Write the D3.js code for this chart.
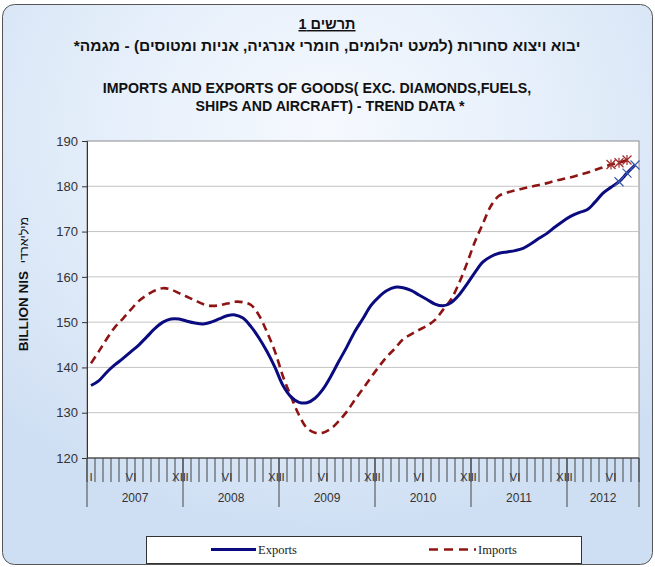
<!DOCTYPE html>
<html><head><meta charset="utf-8">
<script src="https://cdn.jsdelivr.net/npm/d3@7/dist/d3.min.js"></script>
<style>html,body{margin:0;padding:0;background:#fff;}svg{display:block;}</style>
</head><body>
<script>
const years = [2007, 2008, 2009, 2010, 2011, 2012];
const monthsPerYear = [12, 12, 12, 12, 12, 9];
const monthLabels = ["I","","","","","VI","","","","","","XII"];
const yTicks = [120, 130, 140, 150, 160, 170, 180, 190];
const exportsData = [136.0,137.1,139.0,140.6,142.0,143.5,145.0,146.8,148.6,150.0,150.7,150.7,
  150.2,149.8,149.6,150.0,150.7,151.4,151.6,150.9,149.0,146.5,143.5,140.0,
  136.0,133.5,132.3,132.2,133.2,135.2,138.1,141.4,144.6,148.0,150.8,153.7,
  155.6,157.0,157.7,157.6,157.0,156.0,155.0,154.0,153.6,154.3,156.0,158.4,
  161.0,163.3,164.5,165.2,165.5,165.8,166.3,167.3,168.5,169.6,171.0,172.3,
  173.4,174.2,174.8,176.5,178.5,179.8,181.0,182.9,184.7];
const importsData = [140.9,143.6,146.4,148.9,150.8,152.8,154.7,156.0,157.0,157.5,157.2,156.4,
  155.6,154.8,154.0,153.6,153.7,154.1,154.5,154.4,153.8,151.5,147.8,143.5,
  138.0,133.6,129.5,126.6,125.6,125.6,126.5,128.2,130.3,132.9,135.3,137.8,
  140.2,142.4,144.2,146.2,147.3,148.3,149.2,150.5,152.7,155.0,158.6,163.0,
  167.8,171.8,175.7,177.9,178.6,179.1,179.5,179.9,180.3,180.7,181.2,181.6,
  182.0,182.5,183.0,183.6,184.2,184.8,185.2,185.8];
const provisionalCount = 3;
const seriesNames = ["Exports", "Imports"];

(function(){
const W = 655, H = 567;
const svg = d3.select("body").append("svg").attr("width", W).attr("height", H);
const defs = svg.append("defs");
const grad = defs.append("radialGradient").attr("id","bg").attr("cx","50%").attr("cy","22%").attr("r","72%");
grad.append("stop").attr("offset","0%").attr("stop-color","#f6f9fe");
grad.append("stop").attr("offset","50%").attr("stop-color","#e4eefa");
grad.append("stop").attr("offset","100%").attr("stop-color","#cfdff3");

svg.append("rect").attr("x",2.5).attr("y",4.5).attr("width",650).attr("height",560)
  .attr("rx",12).attr("fill","url(#bg)").attr("stroke","#555").attr("stroke-width",1);

const font = "'Liberation Sans', Arial, sans-serif";
svg.append("text").attr("x",327).attr("y",29).attr("text-anchor","middle")
  .attr("font-family",font).attr("font-weight","bold").attr("font-size",14.5)
  .attr("text-decoration","underline").attr("direction","rtl").attr("fill","#111").text("תרשים 1");
svg.append("text").attr("x",327).attr("y",51).attr("text-anchor","middle")
  .attr("font-family",font).attr("font-weight","bold").attr("font-size",15.5)
  .attr("direction","rtl").attr("fill","#111")
  .text("יבוא ויצוא סחורות (למעט יהלומים, חומרי אנרגיה, אניות ומטוסים) - מגמה*");
svg.append("text").attr("x",317).attr("y",93).attr("text-anchor","middle")
  .attr("font-family",font).attr("font-weight","bold").attr("font-size",14.2).attr("fill","#111")
  .text("IMPORTS AND EXPORTS OF GOODS( EXC. DIAMONDS,FUELS,");
svg.append("text").attr("x",330).attr("y",111).attr("text-anchor","middle")
  .attr("font-family",font).attr("font-weight","bold").attr("font-size",14.2).attr("fill","#111")
  .text("SHIPS AND AIRCRAFT) - TREND DATA *");

const pL = 87, pR = 639, pT = 141, pB = 458;
const nMonths = d3.sum(monthsPerYear);
const idx = d3.range(nMonths);
const x = d3.scaleBand().domain(idx).range([pL, pR]).padding(0);
const y = d3.scaleLinear().domain([120, 190]).range([pB, pT]);
const cx = i => x(i) + x.bandwidth()/2;

svg.append("rect").attr("x",pL).attr("y",pT).attr("width",pR-pL).attr("height",pB-pT)
  .attr("fill","#fff").attr("stroke","#8c8c8c").attr("stroke-width",1);

svg.append("g").selectAll("line").data(yTicks.filter(t => t>120 && t<190)).join("line")
  .attr("x1",pL).attr("x2",pR).attr("y1",d=>y(d)).attr("y2",d=>y(d))
  .attr("stroke","#c4c4c4").attr("stroke-width",1);

const yAxis = d3.axisLeft(y).tickValues(yTicks).tickSize(5).tickPadding(4);
const gy = svg.append("g").attr("transform",`translate(${pL},0)`).call(yAxis);
gy.select(".domain").attr("stroke","#333");
gy.selectAll(".tick line").attr("stroke","#333");
gy.selectAll("text").attr("font-family",font).attr("font-size",13).attr("fill","#333");

const gx = svg.append("g");
gx.append("line").attr("x1",pL).attr("x2",pR).attr("y1",pB).attr("y2",pB).attr("stroke","#333");
const bounds = d3.range(nMonths+1);
const bx = d => d<nMonths ? x(d) : pR;
gx.selectAll("line.mt").data(bounds).join("line").attr("class","mt")
  .attr("x1",bx).attr("x2",bx)
  .attr("y1",pB).attr("y2",482).attr("stroke","#444").attr("stroke-width",1);
let starts = [0]; monthsPerYear.forEach((m,k)=>starts.push(starts[k]+m));
gx.selectAll("line.yr").data(starts).join("line").attr("class","yr")
  .attr("x1",bx).attr("x2",bx)
  .attr("y1",pB).attr("y2",507).attr("stroke","#444").attr("stroke-width",1);
const monthCats = idx.map(i => { let k=0; while(i>=starts[k+1]) k++; return {i, m:i-starts[k]}; });
gx.selectAll("text.ml").data(monthCats.filter(d=>monthLabels[d.m]!=="")).join("text").attr("class","ml")
  .attr("x",d=>cx(d.i)).attr("y",481).attr("text-anchor","middle")
  .attr("font-family",font).attr("font-size",11.5).attr("fill","#333").text(d=>monthLabels[d.m]);
gx.selectAll("text.yl").data(years).join("text").attr("class","yl")
  .attr("x",(d,k)=>(bx(starts[k]) + bx(starts[k+1]))/2)
  .attr("y",502).attr("text-anchor","middle")
  .attr("font-family",font).attr("font-size",12).attr("fill","#333").text(d=>d);

const yl = svg.append("text").attr("transform","translate(28,284) rotate(-90)")
  .attr("text-anchor","middle").attr("font-family",font).attr("fill","#111");
yl.append("tspan").attr("font-weight","bold").attr("font-size",13.5).text("BILLION NIS ");
yl.append("tspan").attr("font-size",12.5).attr("dx",4).text("מיליארדי");

const line = d3.line().x((d,i)=>cx(i)).y(d=>y(d)).curve(d3.curveCatmullRom.alpha(0.5));
svg.append("path").datum(importsData).attr("d",line).attr("fill","none")
  .attr("stroke","#8e1414").attr("stroke-width",2.6).attr("stroke-dasharray","8,5");
svg.append("path").datum(exportsData).attr("d",line).attr("fill","none")
  .attr("stroke","#0b0b80").attr("stroke-width",3);

const expProv = exportsData.map((v,i)=>({v,i})).slice(-provisionalCount);
const impProv = importsData.map((v,i)=>({v,i})).slice(-provisionalCount);
const s = 4.5;
const mx = svg.append("g");
expProv.forEach(d=>{
  const X=cx(d.i), Y=y(d.v);
  mx.append("path").attr("d",`M${X-s},${Y-s}L${X+s},${Y+s}M${X-s},${Y+s}L${X+s},${Y-s}`)
    .attr("stroke","#3a5cab").attr("stroke-width",1.2).attr("fill","none");
});
impProv.forEach(d=>{
  const X=cx(d.i), Y=y(d.v);
  mx.append("path").attr("d",`M${X-s},${Y-s}L${X+s},${Y+s}M${X-s},${Y+s}L${X+s},${Y-s}M${X},${Y-s-0.5}L${X},${Y+s+0.5}`)
    .attr("stroke","#a02a2a").attr("stroke-width",1.2).attr("fill","none");
});

const lg = svg.append("g");
lg.append("rect").attr("x",146.5).attr("y",536.5).attr("width",435).attr("height",27)
  .attr("fill","#fff").attr("stroke","#333").attr("stroke-width",1);
lg.append("line").attr("x1",211).attr("x2",256).attr("y1",549.5).attr("y2",549.5)
  .attr("stroke","#0b0b80").attr("stroke-width",3);
lg.append("text").attr("x",258).attr("y",553.5).attr("font-family","'Liberation Serif', serif")
  .attr("font-size",12.5).attr("fill","#222").text(seriesNames[0]);
lg.append("line").attr("x1",429).attr("x2",476).attr("y1",549.5).attr("y2",549.5)
  .attr("stroke","#8e1414").attr("stroke-width",2.6).attr("stroke-dasharray","9,6");
lg.append("text").attr("x",478).attr("y",553.5).attr("font-family","'Liberation Serif', serif")
  .attr("font-size",12.5).attr("fill","#222").text(seriesNames[1]);
})();
</script>
</body></html>
